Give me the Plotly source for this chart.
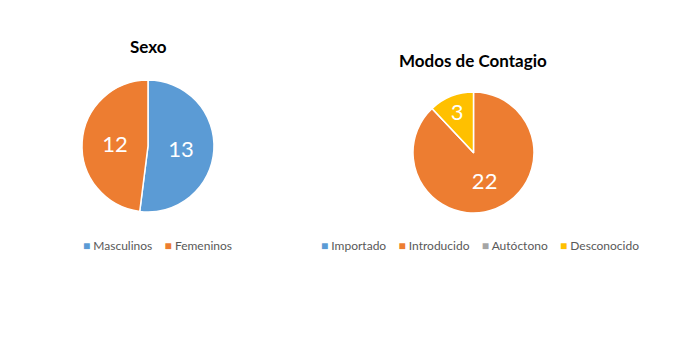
import plotly.graph_objects as go

sexo_labels = ["Masculinos", "Femeninos"]
sexo_values = [13, 12]
modos_labels = ["Importado", "Introducido", "Autóctono", "Desconocido"]
modos_values = [0, 22, 0, 3]

sexo_colors = ["#5B9BD5", "#ED7D31"]
modos_colors = ["#5B9BD5", "#ED7D31", "#A5A5A5", "#FFC000"]

W, H = 700, 340
FONT = "Lato"

def px_x(x):
    return x / W

def px_y(y):
    return 1 - y / H

fig = go.Figure()
fig.add_trace(go.Pie(
    labels=sexo_labels, values=sexo_values, sort=False, direction="clockwise", rotation=0,
    marker=dict(colors=sexo_colors, line=dict(color="white", width=1.5)),
    textinfo="value", textposition="inside", insidetextorientation="horizontal",
    textfont=dict(color="white", size=22, family=FONT),
    domain=dict(x=[px_x(82), px_x(214)], y=[px_y(212), px_y(80)]),
    showlegend=False, hoverinfo="label+value",
))
fig.add_trace(go.Pie(
    labels=modos_labels, values=modos_values, sort=False, direction="clockwise", rotation=0,
    marker=dict(colors=modos_colors, line=dict(color="white", width=1.5)),
    textinfo="value", textposition="inside", insidetextorientation="horizontal",
    textfont=dict(color="white", size=22, family=FONT),
    domain=dict(x=[px_x(413), px_x(534)], y=[px_y(213), px_y(92)]),
    showlegend=False, hoverinfo="label+value",
))

def legend_text(labels, colors):
    gap = "\u00a0" * 4
    items = [f"<span style='color:{c}'>■</span>\u00a0{l}" for l, c in zip(labels, colors)]
    return gap.join(items)

fig.update_layout(
    width=W, height=H,
    margin=dict(l=0, r=0, t=0, b=0),
    paper_bgcolor="white", plot_bgcolor="white",
    font=dict(family=FONT),
    annotations=[
        dict(text="<b>Sexo</b>", x=px_x(148), y=px_y(47), xref="paper", yref="paper",
             xanchor="center", yanchor="middle",
             showarrow=False, font=dict(size=17, color="black", family=FONT)),
        dict(text="<b>Modos de Contagio</b>", x=px_x(473), y=px_y(60), xref="paper", yref="paper",
             xanchor="center", yanchor="middle",
             showarrow=False, font=dict(size=17, color="black", family=FONT)),
        dict(text=legend_text(sexo_labels, sexo_colors), x=px_x(157), y=px_y(245),
             xref="paper", yref="paper", xanchor="center", yanchor="middle",
             showarrow=False, font=dict(size=12, color="#595959", family=FONT)),
        dict(text=legend_text(modos_labels, modos_colors), x=px_x(480), y=px_y(245),
             xref="paper", yref="paper", xanchor="center", yanchor="middle",
             showarrow=False, font=dict(size=12, color="#595959", family=FONT)),
    ],
)

fig.write_html("out.html")
